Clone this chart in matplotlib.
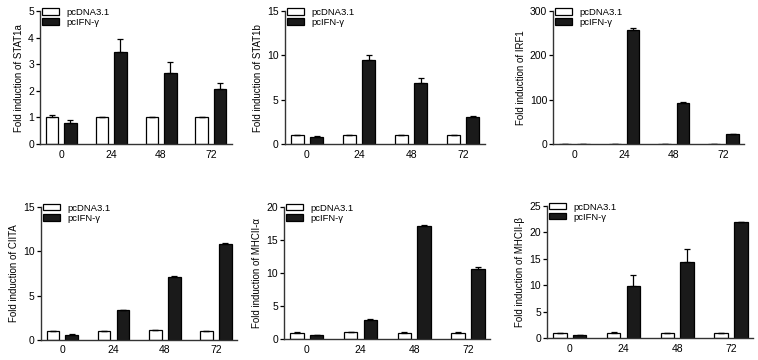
import numpy as np
import matplotlib.pyplot as plt

plt.rcParams['font.family'] = ['Liberation Sans', 'DejaVu Sans']

hours = ['0', '24', '48', '72']
groups = ['pcDNA3.1', 'pcIFN-γ']

# panel order: STAT1a, STAT1b, IRF1, CIITA, MHCII-α, MHCII-β
genes = ['STAT1a', 'STAT1b', 'IRF1', 'CIITA', 'MHCII-α', 'MHCII-β']
ymax = [5, 15, 300, 15, 20, 25]
ystep = [1, 5, 100, 5, 5, 5]

ctrl_mean = [
    [1.0, 1.0, 1.0, 1.0],
    [1.0, 1.0, 1.0, 1.0],
    [1.0, 1.0, 1.0, 1.0],
    [1.0, 1.0, 1.1, 1.0],
    [1.0, 1.05, 1.0, 1.0],
    [1.0, 1.0, 1.0, 1.0],
]
ctrl_err = [
    [0.1, 0.01, 0.01, 0.02],
    [0.05, 0.01, 0.01, 0.01],
    [0.1, 0.1, 0.1, 0.1],
    [0.05, 0.02, 0.05, 0.03],
    [0.03, 0.05, 0.02, 0.02],
    [0.03, 0.05, 0.02, 0.02],
]
ifn_mean = [
    [0.78, 3.48, 2.68, 2.07],
    [0.8, 9.5, 6.9, 3.1],
    [0.8, 258, 93, 22],
    [0.6, 3.35, 7.1, 10.85],
    [0.6, 2.9, 17.1, 10.6],
    [0.6, 9.8, 14.3, 21.9],
]
ifn_err = [
    [0.12, 0.48, 0.4, 0.22],
    [0.1, 0.55, 0.5, 0.1],
    [0.1, 3, 2, 0.5],
    [0.05, 0.05, 0.1, 0.07],
    [0.03, 0.2, 0.15, 0.3],
    [0.05, 2.1, 2.5, 0.1],
]

# axes rectangles in figure fractions
rects = [
    [0.053, 0.600, 0.253, 0.369],
    [0.376, 0.600, 0.264, 0.369],
    [0.730, 0.600, 0.252, 0.369],
    [0.054, 0.056, 0.259, 0.369],
    [0.375, 0.058, 0.272, 0.367],
    [0.722, 0.061, 0.272, 0.367],
]

fig = plt.figure(figsize=(7.58, 3.6), dpi=100)
x = np.arange(len(hours))
w = 0.25
off = 0.185
ekw = dict(ecolor='black', elinewidth=0.9, capsize=2.5, capthick=0.9)

for i in range(6):
    ax = fig.add_axes(rects[i])
    cm = np.array(ctrl_mean[i]); ce = np.array(ctrl_err[i])
    im = np.array(ifn_mean[i]); ie = np.array(ifn_err[i])
    ax.bar(x - off, cm, w, color='white', edgecolor='black', linewidth=0.9,
           yerr=[np.zeros_like(ce), ce], error_kw=ekw, label=groups[0])
    ax.bar(x + off, im, w, color='#1a1a1a', edgecolor='black', linewidth=0.9,
           yerr=[np.zeros_like(ie), ie], error_kw=ekw, label=groups[1])
    ax.set_xlim(-0.42, 3.42)
    ax.set_ylim(0, ymax[i])
    ax.set_yticks(np.arange(0, ymax[i] + 1, ystep[i]))
    ax.set_xticks(x)
    ax.set_xticklabels(hours)
    ax.tick_params(axis='x', length=0, labelsize=7.5, pad=4)
    ax.tick_params(axis='y', length=3, width=0.9, labelsize=7.5, pad=1.5)
    for s in ['top', 'right']:
        ax.spines[s].set_visible(False)
    for s in ['left', 'bottom']:
        ax.spines[s].set_linewidth(1.0)
        ax.spines[s].set_color('#333333')
    ax.set_ylabel('Fold induction of ' + genes[i], fontsize=7, labelpad=3)
    ax.legend(loc='upper left', bbox_to_anchor=(0.0, 1.04), frameon=False, fontsize=6.8,
              handlelength=1.8, handleheight=0.65, handletextpad=0.8, labelspacing=0.12,
              borderpad=0.1, borderaxespad=0.1)

fig.savefig('out.png', dpi=100)
